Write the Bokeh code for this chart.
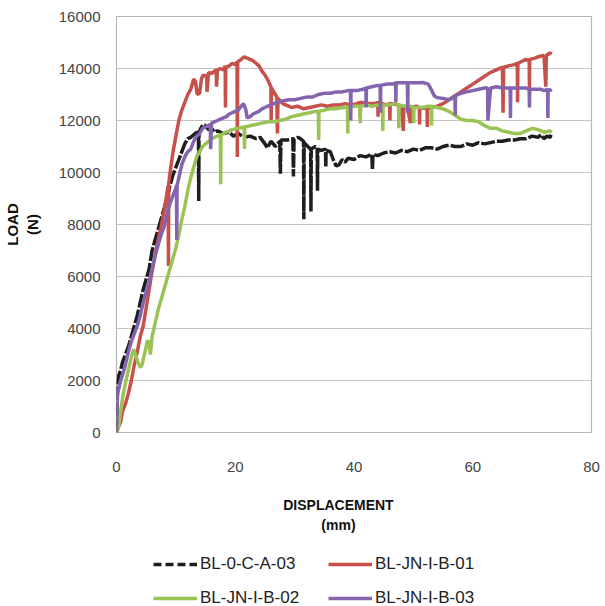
from bokeh.plotting import figure
from bokeh.layouts import column
from bokeh.models import FixedTicker, Legend, LegendItem
from bokeh.embed import file_html
from bokeh.resources import INLINE

# ---------------- data ----------------
x_ticks = [0, 20, 40, 60, 80]
y_ticks = [0, 2000, 4000, 6000, 8000, 10000, 12000, 14000, 16000]
series_names = ["BL-0-C-A-03", "BL-JN-I-B-01", "BL-JN-I-B-02", "BL-JN-I-B-03"]
x_title = "DISPLACEMENT"
x_unit = "(mm)"
y_title = "LOAD"
y_unit = "(N)"

black_x = [0, 0.1, 0.2, 0.4, 0.7, 1.0, 1.5, 2.0, 2.5, 3.0, 3.5, 4.0, 4.5, 5.0, 5.5, 6.0, 6.5, 7.0,
           7.5, 8.0, 8.5, 9.0, 9.5, 10.0, 10.5, 11.0, 11.5, 12.0, 12.5, 13.0, 13.5, 13.8, 13.85, 13.9,
           14.2, 14.6, 15.0, 15.5, 16.0, 16.5, 17.0, 18.0, 19.0, 19.7, 20.5, 21.5, 22.5, 23.5, 24.2,
           25.0, 25.4, 26.0, 26.8, 27.5, 27.6, 27.7, 28.8, 29.7, 29.8, 29.9, 30.5, 31.0, 31.5, 31.55,
           31.6, 32.2, 32.7, 32.75, 32.8, 33.5, 33.8, 33.85, 33.9, 34.5, 35.2, 35.25, 35.3, 36.0, 36.5,
           37.0, 37.5, 38.0, 38.5, 39.0, 40.0, 41.0, 42.0, 43.0, 43.1, 43.2, 44.0, 45.0, 46.0, 47.0,
           48.0, 49.0, 50.0, 51.0, 52.0, 53.0, 54.0, 55.0, 56.0, 57.0, 58.0, 59.0, 60.0, 61.0, 62.0,
           63.0, 64.0, 65.0, 66.0, 67.0, 68.0, 69.0, 70.0, 71.0, 71.5, 72.0, 72.5, 73.0, 73.2]
black_y = [0, 1200, 1900, 2200, 2400, 2700, 3000, 3300, 3700, 4100, 4500, 5000, 5500, 5900, 6300, 7000,
           7400, 7800, 8200, 8600, 9000, 9500, 9900, 10200, 10500, 10800, 11100, 11300, 11350, 11450,
           11550, 11500, 8900, 11550, 11700, 11850, 11800, 11650, 11700, 11550, 11600, 11500, 11550,
           11400, 11500, 11350, 11400, 11300, 11350, 11100, 10950, 11200, 11000, 11200, 9950, 11250,
           11250, 11300, 9850, 11300, 11350, 11300, 11200, 8200, 11150, 11000, 10900, 8500, 10900,
           11000, 10950, 9300, 10900, 10850, 10900, 10200, 10850, 10800, 10500, 10250, 10300, 10500,
           10400, 10550, 10500, 10650, 10600, 10700, 10100, 10700, 10650, 10750, 10800, 10750, 10850,
           10800, 10900, 10850, 10950, 10950, 10900, 11000, 11050, 11000, 11000, 11100, 11050, 11150,
           11100, 11150, 11200, 11200, 11250, 11250, 11300, 11300, 11400, 11350, 11450, 11300, 11400,
           11350, 11450]

red_x = [0, 0.3, 0.7, 1.0, 1.5, 2.0, 2.5, 3.0, 3.5, 4.0, 4.5, 5.0, 5.5, 6.0, 6.5, 7.0, 7.5, 8.0, 8.5,
         8.7, 8.75, 8.8, 9.2, 9.6, 10.0, 10.5, 11.0, 11.5, 12.0, 12.5, 13.0, 13.3, 13.6, 14.0, 14.3,
         14.6, 15.0, 15.2, 15.25, 15.5, 16.0, 16.5, 16.8, 16.85, 17.0, 17.5, 18.0, 18.3, 18.35, 18.4,
         19.0, 19.5, 20.0, 20.3, 20.35, 20.4, 21.0, 21.5, 22.0, 22.5, 23.0, 23.5, 24.0, 24.5, 25.0,
         25.5, 26.0, 26.05, 26.1, 26.5, 27.0, 27.1, 27.2, 27.6, 28.0, 28.5, 29.0, 29.5, 30.5, 31.5,
         32.5, 33.5, 34.5, 35.5,
         36.5, 37.5, 38.5, 39.5, 40.5, 41.0, 41.05, 41.1, 42.5, 43.5, 44.0, 44.05, 44.1, 45.5,
         46.0, 46.05, 46.1, 47.5, 48.0, 48.3, 48.4, 49.0, 49.5, 49.6, 50.5, 51.0, 51.05, 51.1,
         52.3, 52.35, 52.4, 53.0, 54.0, 55.0,
         56.0, 57.0, 58.0, 59.0, 60.0, 61.0, 62.0, 63.0, 64.0, 65.0, 65.1, 65.2, 66.0, 67.0, 67.5,
         67.55, 67.6, 68.5, 69.0, 69.5, 69.55, 69.6, 70.5, 71.0, 72.0, 72.3, 72.4, 73.0, 73.3]
red_y = [0, 200, 400, 800, 1100, 1500, 2000, 2600, 3100, 3700, 4100, 4800, 5500, 6200, 6800, 7400,
         7900, 8500, 9200, 9500, 6400, 9600, 10300, 10900, 11400, 12000, 12400, 12700, 13000, 13200,
         13600, 13500, 13000, 13050, 13600, 13750, 13700, 13750, 13100, 13850, 13800, 13900, 13950,
         13300, 13950, 14000, 13950, 14100, 12500, 14050, 14100, 14200, 14150, 14250, 10600, 14250,
         14350, 14450, 14400, 14350, 14300, 14200, 14100, 13900, 13750, 13550, 13300, 12000, 13250,
         13100, 12900, 11500, 12850, 12750, 12650, 12600, 12550, 12500, 12550, 12450, 12500, 12550,
         12600, 12550,
         12600, 12600, 12650, 12600, 12650, 12700, 12100, 12700, 12650, 12650, 12700, 12150, 12700,
         12600, 12650, 12000, 12650, 12600, 12500, 11600, 12550, 12500, 11900, 12500, 12550, 12500,
         11850, 12500, 12450, 11750, 12450, 12500, 12550, 12650,
         12800, 12950, 13100, 13250, 13400, 13550, 13700, 13850, 13950, 14050, 12300, 14050, 14100,
         14150, 14200, 12700, 14200, 14300, 14350, 14300, 13200, 14350, 14400, 14450, 14500, 13300,
         14500, 14600, 14550]

green_x = [0, 0.2, 0.4, 0.7, 1.0, 1.5, 2.0, 2.5, 2.9, 3.2, 3.6, 4.0, 4.3, 4.7, 5.0, 5.2, 5.5, 5.7,
           6.0, 6.5, 7.0, 7.5, 8.0, 8.5, 9.0, 9.5, 10.0, 10.5, 11.0, 11.5, 12.0, 12.5, 13.0, 13.5,
           14.0, 14.5, 15.0, 15.5, 16.0, 16.5, 17.0, 17.5, 17.55, 17.6, 18.5, 19.5, 20.5, 21.5, 21.55,
           21.6, 22.5, 23.5, 24.5, 25.5, 26.5, 27.5, 28.5, 29.5, 30.5, 31.5, 32.5, 33.5, 34.0, 34.05,
           34.1, 35.0, 36.0, 37.0, 38.0, 38.9, 38.95, 39.0,
           40.0, 41.0, 41.05, 41.1, 42.0, 43.0, 44.0, 44.8, 44.85, 44.9, 46.0, 47.0, 47.5, 47.55,
           47.6, 48.5, 49.5, 50.0, 50.05, 50.1, 50.5, 51.5,
           52.5, 53.0, 53.05, 53.1, 54.0,
           55.0, 56.0, 57.0, 58.0, 59.0, 60.0, 61.0, 62.0, 63.0, 64.0, 65.0, 66.0, 67.0, 68.0, 69.0,
           70.0, 71.0, 72.0, 73.0, 73.3]
green_y = [0, 100, 300, 800, 1300, 1900, 2400, 2900, 3200, 3000, 2700, 2500, 2600, 3000, 3300, 3550,
           3400, 3000, 3700, 4200, 4700, 5100, 5500, 5900, 6300, 6700, 7100, 7600, 8200, 8700, 9300,
           9800, 10200, 10600, 10800, 11000, 11100, 11200, 11300, 11350, 11400, 11450, 9550, 11450,
           11550, 11650, 11700, 11750, 10900, 11750, 11800, 11850, 11900, 11950, 11950, 12000, 12050,
           12150, 12200, 12250, 12300, 12350, 12350, 11250, 12350, 12400, 12450, 12450, 12500, 12500,
           11500, 12500,
           12550, 12550, 11900, 12550, 12600, 12550, 12600, 12600, 11600, 12600, 12600, 12650, 12600,
           11700, 12600, 12550, 12550, 12500, 11900, 12500, 12500, 12500,
           12550, 12550, 11800, 12550, 12500,
           12450, 12350, 12200, 12050, 12000, 12000, 11950, 11800, 11700, 11700, 11600, 11550, 11500,
           11500, 11600, 11700, 11650, 11550, 11600, 11550]

purple_x = [0, 0.1, 0.2, 0.4, 0.7, 1.0, 1.5, 2.0, 2.5, 3.0, 3.5, 4.0, 4.5, 5.0, 5.5, 6.0, 6.5, 7.0,
            7.5, 8.0, 8.5, 9.0, 9.5, 10.0, 10.1, 10.15, 10.2, 10.6, 11.0, 11.5, 12.0, 12.5, 13.0, 13.5,
            14.0, 14.5, 15.0, 15.5, 15.8, 15.85, 16.0, 16.5, 17.0, 17.5, 18.0, 18.5, 19.0, 19.5, 20.0,
            20.5, 21.0, 21.4, 21.8, 22.0, 22.5, 23.0, 23.5, 24.0, 24.5, 25.0, 25.5, 26.0, 27.0, 28.0,
            29.0, 30.0, 31.0, 32.0, 33.0, 34.0, 35.0, 36.0, 37.0, 38.0, 39.0, 39.4, 39.45, 39.5, 40.5,
            41.5, 42.0, 42.05, 42.1, 43.0, 44.0, 44.4, 44.45, 44.5, 45.5, 46.5, 47.0, 47.05, 47.1, 48.0,
            49.0, 49.05, 49.1, 50.0, 51.0, 51.7, 52.5, 53.0, 53.5, 54.0, 55.0, 56.0, 56.5, 57.0, 57.05,
            57.1, 58.0, 59.0, 60.0, 61.0, 62.0, 62.5, 62.55, 63.0, 64.0, 65.0, 66.0, 66.3, 66.35, 66.4,
            67.0, 68.0, 69.0, 69.5, 69.55, 69.6, 70.5, 71.5, 72.0, 72.6, 72.65, 72.7, 73.0, 73.3]
purple_y = [0, 1000, 1500, 1700, 2000, 2200, 2600, 3100, 3500, 3800, 4100, 4500, 5000, 5400, 5800,
            6300, 6800, 7200, 7600, 7900, 8400, 8800, 9100, 9400, 9500, 7400, 9500, 9900, 10300, 10600,
            10800, 10900, 11200, 11400, 11500, 11700, 11750, 11800, 11850, 10900, 11900, 11950, 12000,
            12050, 12100, 12150, 12250, 12300, 12350, 12400, 12550, 12650, 12400, 12100, 12150, 12250,
            12300, 12350, 12450, 12500, 12550, 12600, 12700, 12750, 12800, 12800, 12850, 12900, 12900,
            13000, 13050, 13050, 13100, 13100, 13150, 13150, 12000, 13150, 13150, 13200, 13250, 12500,
            13250, 13300, 13350, 13350, 12300, 13350, 13400, 13400, 13450, 12700, 13450, 13450, 13450,
            12300, 13450, 13450, 13450, 13460, 13400, 13200, 12950, 12880, 12850, 12800, 12850, 12950,
            12200, 12950, 13050, 13100, 13150, 13200, 13250, 13250, 12000, 13250, 13300, 13250, 13250,
            13250, 12100, 13250, 13250, 13250, 13250, 13200, 12500, 13200, 13200, 13200, 13150, 13200,
            12100, 13200, 13150, 13200]

colors = ["#1e1e1e", "#c8504b", "#9bc255", "#8464ae"]
FONT = "Liberation Sans"
NB = "\u00a0" * 8  # shifts the centred x title slightly left, as in the reference

# ---------------- main chart ----------------
p = figure(width=605, height=540, x_range=(0, 80), y_range=(0, 16000),
           output_backend="svg", toolbar_location=None,
           min_border_left=116, min_border_right=14, min_border_top=16, min_border_bottom=108)

p.outline_line_color = "#b5b5b5"
p.outline_line_width = 1.2
p.xgrid.grid_line_color = None
p.ygrid.grid_line_color = "#c4c4c4"
p.ygrid.grid_line_width = 1.2

p.xaxis.ticker = FixedTicker(ticks=x_ticks)
p.yaxis.ticker = FixedTicker(ticks=y_ticks)
for ax in (p.xaxis, p.yaxis):
    ax.axis_line_color = None
    ax.major_tick_line_color = None
    ax.minor_tick_line_color = None
    ax.major_tick_out = 0
    ax.major_tick_in = 0
    ax.major_label_text_font = FONT
    ax.major_label_text_font_size = "15px"
    ax.major_label_text_color = "#444444"
    ax.axis_label_text_font = FONT
    ax.axis_label_text_font_style = "bold"
    ax.axis_label_text_color = "#111111"
p.yaxis.major_label_standoff = 16
p.xaxis.major_label_standoff = 29

p.yaxis.axis_label = y_title + "\n" + y_unit
p.yaxis.axis_label_text_font_size = "15px"
p.yaxis.axis_label_text_line_height = 1.15
p.yaxis.axis_label_standoff = 15

p.xaxis.axis_label = x_title + NB + "\n" + x_unit + NB
p.xaxis.axis_label_text_font_size = "14px"
p.xaxis.axis_label_text_line_height = 1.3
p.xaxis.axis_label_standoff = 22

r_black = p.line(black_x, black_y, line_color=colors[0], line_width=3.5, line_dash="14 2")
r_red = p.line(red_x, red_y, line_color=colors[1], line_width=3.5)
r_green = p.line(green_x, green_y, line_color=colors[2], line_width=3.5)
r_purple = p.line(purple_x, purple_y, line_color=colors[3], line_width=3.5)

# ---------------- legend strip below the chart ----------------
# Same series, viewed through a window that shows none of them: only the legend is visible.
q = figure(width=605, height=66, x_range=(-2, -1), y_range=(-2, -1),
           output_backend="svg", toolbar_location=None,
           x_axis_type=None, y_axis_type=None,
           min_border_left=0, min_border_right=0, min_border_top=0, min_border_bottom=0)
q.outline_line_color = None
q.xgrid.grid_line_color = None
q.ygrid.grid_line_color = None
k_black = q.line(black_x, black_y, line_color=colors[0], line_width=3.5, line_dash="8 4")
k_red = q.line(red_x, red_y, line_color=colors[1], line_width=3.5)
k_green = q.line(green_x, green_y, line_color=colors[2], line_width=3.5)
k_purple = q.line(purple_x, purple_y, line_color=colors[3], line_width=3.5)

legend = Legend(items=[LegendItem(label=series_names[0], renderers=[k_black]),
                       LegendItem(label=series_names[1], renderers=[k_red]),
                       LegendItem(label=series_names[2], renderers=[k_green]),
                       LegendItem(label=series_names[3], renderers=[k_purple])],
                orientation="horizontal", ncols=2,
                location=(37, -2), padding=0, margin=0, spacing=14,
                glyph_width=44, glyph_height=20, label_standoff=3, label_width=114,
                label_text_font=FONT, label_text_font_size="17px", label_text_color="#222222",
                background_fill_alpha=0, border_line_color=None)
q.add_layout(legend, "center")

layout = column(p, q, spacing=0)
open("out.html", "w").write(file_html(layout, INLINE))
